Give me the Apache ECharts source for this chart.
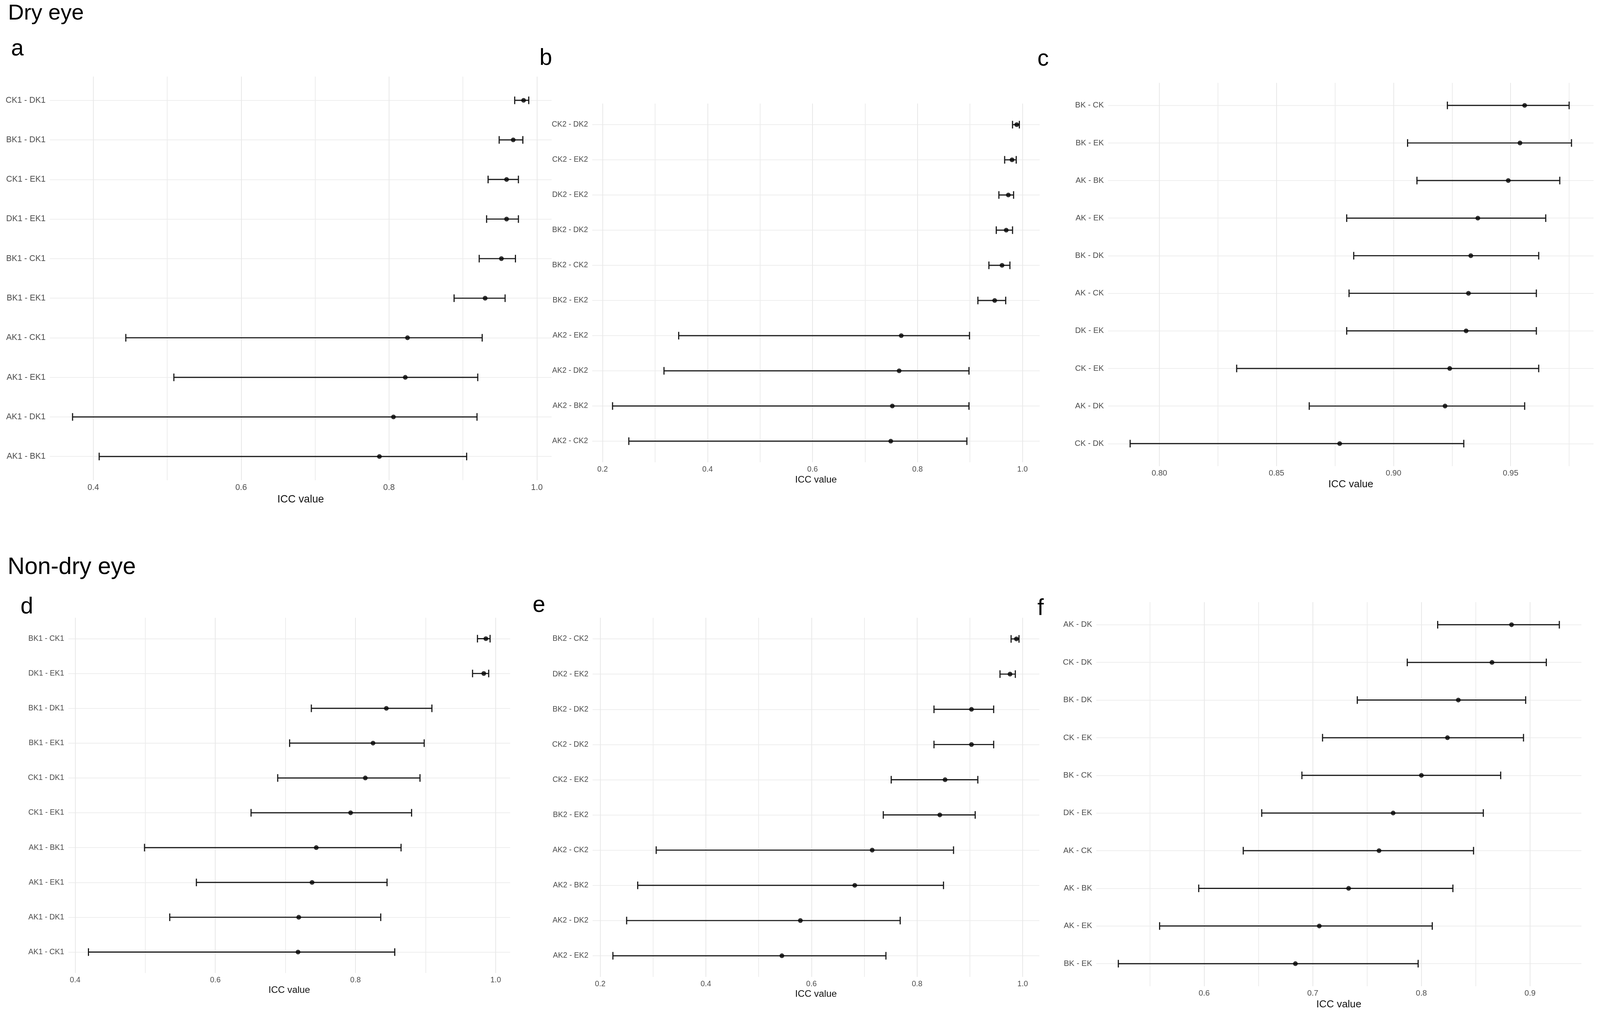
<!DOCTYPE html>
<html lang="en">
<head>
<meta charset="UTF-8">
<title>ICC values - dry eye / non-dry eye</title>
<script src="https://cdn.jsdelivr.net/npm/echarts@6/dist/echarts.min.js"></script>
<style>
    html, body { margin: 0; padding: 0; background: #fff; overflow: hidden; }
    #container { width: 100vw; height: 100vh; }
</style>
</head>
<body>
<div id="container"></div>
<script type="text/javascript">
    // ---- data (rows listed top to bottom) ----
    // a: dry eye, K1
    const catsA = ['CK1 - DK1','BK1 - DK1','CK1 - EK1','DK1 - EK1','BK1 - CK1','BK1 - EK1','AK1 - CK1','AK1 - EK1','AK1 - DK1','AK1 - BK1'];
    const estA = [0.982,0.968,0.959,0.959,0.952,0.930,0.825,0.822,0.806,0.787];
    const loA  = [0.970,0.949,0.934,0.932,0.922,0.888,0.444,0.509,0.372,0.408];
    const hiA  = [0.989,0.981,0.975,0.975,0.971,0.957,0.926,0.920,0.919,0.905];
    const ticksA = [0.4,0.6,0.8,1.0];
    const minorA = [0.5,0.7,0.9];

    // b: dry eye, K2
    const catsB = ['CK2 - DK2','CK2 - EK2','DK2 - EK2','BK2 - DK2','BK2 - CK2','BK2 - EK2','AK2 - EK2','AK2 - DK2','AK2 - BK2','AK2 - CK2'];
    const estB = [0.989,0.980,0.973,0.969,0.961,0.947,0.769,0.765,0.752,0.749];
    const loB  = [0.981,0.966,0.955,0.950,0.936,0.915,0.345,0.317,0.219,0.250];
    const hiB  = [0.994,0.988,0.983,0.981,0.976,0.968,0.899,0.898,0.898,0.894];
    const ticksB = [0.2,0.4,0.6,0.8,1.0];
    const minorB = [0.3,0.5,0.7,0.9];

    // c: dry eye, mean K
    const catsC = ['BK - CK','BK - EK','AK - BK','AK - EK','BK - DK','AK - CK','DK - EK','CK - EK','AK - DK','CK - DK'];
    const estC = [0.956,0.954,0.949,0.936,0.933,0.932,0.931,0.924,0.922,0.877];
    const loC  = [0.923,0.906,0.910,0.880,0.883,0.881,0.880,0.833,0.864,0.7875];
    const hiC  = [0.975,0.976,0.971,0.965,0.962,0.961,0.961,0.962,0.956,0.930];
    const ticksC = [0.80,0.85,0.90,0.95];
    const minorC = [0.825,0.875,0.925,0.975];

    // d: non-dry eye, K1
    const catsD = ['BK1 - CK1','DK1 - EK1','BK1 - DK1','BK1 - EK1','CK1 - DK1','CK1 - EK1','AK1 - BK1','AK1 - EK1','AK1 - DK1','AK1 - CK1'];
    const estD = [0.986,0.983,0.844,0.825,0.814,0.793,0.744,0.738,0.719,0.718];
    const loD  = [0.974,0.967,0.737,0.706,0.689,0.651,0.499,0.573,0.535,0.419];
    const hiD  = [0.992,0.990,0.909,0.898,0.892,0.880,0.865,0.845,0.836,0.856];
    const ticksD = [0.4,0.6,0.8,1.0];
    const minorD = [0.5,0.7,0.9];

    // e: non-dry eye, K2
    const catsE = ['BK2 - CK2','DK2 - EK2','BK2 - DK2','CK2 - DK2','CK2 - EK2','BK2 - EK2','AK2 - CK2','AK2 - BK2','AK2 - DK2','AK2 - EK2'];
    const estE = [0.988,0.976,0.903,0.903,0.853,0.843,0.715,0.682,0.579,0.544];
    const loE  = [0.978,0.957,0.832,0.832,0.751,0.736,0.306,0.271,0.250,0.224];
    const hiE  = [0.993,0.986,0.945,0.945,0.915,0.910,0.869,0.850,0.768,0.741];
    const ticksE = [0.2,0.4,0.6,0.8,1.0];
    const minorE = [0.3,0.5,0.7,0.9];

    // f: non-dry eye, mean K
    const catsF = ['AK - DK','CK - DK','BK - DK','CK - EK','BK - CK','DK - EK','AK - CK','AK - BK','AK - EK','BK - EK'];
    const estF = [0.883,0.865,0.834,0.824,0.800,0.774,0.761,0.733,0.706,0.684];
    const loF  = [0.815,0.787,0.741,0.709,0.690,0.653,0.636,0.595,0.559,0.521];
    const hiF  = [0.927,0.915,0.896,0.894,0.873,0.857,0.848,0.829,0.810,0.797];
    const ticksF = [0.6,0.7,0.8,0.9];
    const minorF = [0.55,0.65,0.75,0.85];

    // ---- layout, designed for a 4212 x 2595 page and scaled to the real viewport ----
    const dom = document.getElementById('container');
    const sx = dom.clientWidth / 4212;
    const sy = dom.clientHeight / 2595;
    const s = Math.min(sx, sy);
    const FONT = '"Liberation Sans", Arial, sans-serif';

    // panel rectangles: left, top, right, bottom
    const panels = [
        { cats: catsA, est: estA, lo: loA, hi: hiA, ticks: ticksA, minor: minorA, dec: 1, box: [131, 196, 1452, 1229], fs: 22, nameFs: 28, nameGap: 37 },
        { cats: catsB, est: estB, lo: loB, hi: hiB, ticks: ticksB, minor: minorB, dec: 1, box: [1559, 265, 2737, 1183], fs: 20, nameFs: 25, nameGap: 34 },
        { cats: catsC, est: estC, lo: loC, hi: hiC, ticks: ticksC, minor: minorC, dec: 2, box: [2917, 212, 4195, 1193], fs: 21, nameFs: 27, nameGap: 35 },
        { cats: catsD, est: estD, lo: loD, hi: hiD, ticks: ticksD, minor: minorD, dec: 1, box: [180, 1581, 1343, 2490], fs: 20, nameFs: 25, nameGap: 33 },
        { cats: catsE, est: estE, lo: loE, hi: hiE, ticks: ticksE, minor: minorE, dec: 1, box: [1560, 1581, 2736, 2500], fs: 20, nameFs: 25, nameGap: 33 },
        { cats: catsF, est: estF, lo: loF, hi: hiF, ticks: ticksF, minor: minorF, dec: 1, box: [2886, 1541, 4163, 2524], fs: 21, nameFs: 27, nameGap: 35 }
    ];

    const labels = [
        { text: 'Dry eye', x: 21, y: 34, size: 58 },
        { text: 'a', x: 29, y: 126, size: 60 },
        { text: 'b', x: 1420, y: 150, size: 60 },
        { text: 'c', x: 2731, y: 152, size: 60 },
        { text: 'Non-dry eye', x: 20, y: 1452, size: 62 },
        { text: 'd', x: 54, y: 1554, size: 60 },
        { text: 'e', x: 1402, y: 1550, size: 60 },
        { text: 'f', x: 2731, y: 1558, size: 60 }
    ];

    const grid = [], xAxis = [], yAxis = [], series = [];

    panels.forEach(function (p, i) {
        // ggplot-like 5% expansion of the data range
        const dMin = Math.min.apply(null, p.lo);
        const dMax = Math.max.apply(null, p.hi);
        const pad = (dMax - dMin) * 0.05;
        const xmin = dMin - pad, xmax = dMax + pad;
        const idx = p.cats.map((c, k) => k);

        grid.push({
            left: p.box[0] * sx, top: p.box[1] * sy,
            width: (p.box[2] - p.box[0]) * sx, height: (p.box[3] - p.box[1]) * sy
        });

        // major x axis: labels + major grid lines
        xAxis.push({
            type: 'value', gridIndex: i, min: xmin, max: xmax,
            axisLine: { show: false },
            axisTick: { show: false, customValues: p.ticks },
            axisLabel: {
                customValues: p.ticks,
                formatter: v => Number(v).toFixed(p.dec),
                margin: 9 * s, color: '#4d4d4d', fontSize: p.fs * s, fontFamily: FONT
            },
            splitLine: { show: true, lineStyle: { color: '#e8e8e8', width: 2 * s } },
            name: 'ICC value', nameLocation: 'middle', nameGap: p.nameGap * s,
            nameTextStyle: { color: '#111', fontSize: p.nameFs * s, fontFamily: FONT }
        });
        // minor x axis: only grid lines
        xAxis.push({
            type: 'value', gridIndex: i, min: xmin, max: xmax,
            axisLine: { show: false },
            axisTick: { show: false, customValues: p.minor },
            axisLabel: { show: false },
            splitLine: { show: true, lineStyle: { color: '#ededed', width: 2 * s } }
        });

        yAxis.push({
            type: 'value', gridIndex: i, min: -0.6, max: idx.length - 0.4, inverse: true,
            axisLine: { show: false },
            axisTick: { show: false, customValues: idx },
            axisLabel: {
                customValues: idx,
                formatter: v => p.cats[Math.round(v)],
                margin: 11 * s, color: '#4d4d4d', fontSize: p.fs * s, fontFamily: FONT
            },
            splitLine: { show: true, lineStyle: { color: '#eeeeee', width: 2 * s } }
        });

        // error bars
        series.push({
            type: 'custom',
            xAxisIndex: i * 2, yAxisIndex: i,
            data: idx.map(k => [k, p.lo[k], p.hi[k]]),
            encode: { x: [1, 2], y: 0 },
            renderItem: function (params, api) {
                const y = api.value(0);
                const a = api.coord([api.value(1), y]);
                const b = api.coord([api.value(2), y]);
                const h = 10 * s;
                const st = { stroke: '#1a1a1a', lineWidth: 3 * s };
                return {
                    type: 'group',
                    children: [
                        { type: 'line', shape: { x1: a[0], y1: a[1], x2: b[0], y2: b[1] }, style: st },
                        { type: 'line', shape: { x1: a[0], y1: a[1] - h, x2: a[0], y2: a[1] + h }, style: st },
                        { type: 'line', shape: { x1: b[0], y1: b[1] - h, x2: b[0], y2: b[1] + h }, style: st }
                    ]
                };
            },
            z: 2
        });

        // point estimates
        series.push({
            type: 'scatter',
            xAxisIndex: i * 2, yAxisIndex: i,
            data: idx.map(k => [p.est[k], k]),
            symbol: 'circle', symbolSize: 12.5 * s,
            itemStyle: { color: '#000' },
            z: 3
        });
    });

    const myChart = echarts.init(dom, null, { renderer: 'canvas' });

    myChart.setOption({
        animation: false,
        backgroundColor: '#fff',
        grid: grid,
        xAxis: xAxis,
        yAxis: yAxis,
        series: series,
        graphic: labels.map(t => ({
            type: 'text', x: t.x * sx, y: t.y * sy,
            style: {
                text: t.text, fill: '#000',
                fontSize: t.size * s, fontFamily: FONT,
                align: 'left', verticalAlign: 'middle'
            }
        }))
    });

    window.addEventListener('resize', myChart.resize);
</script>
</body>
</html>
